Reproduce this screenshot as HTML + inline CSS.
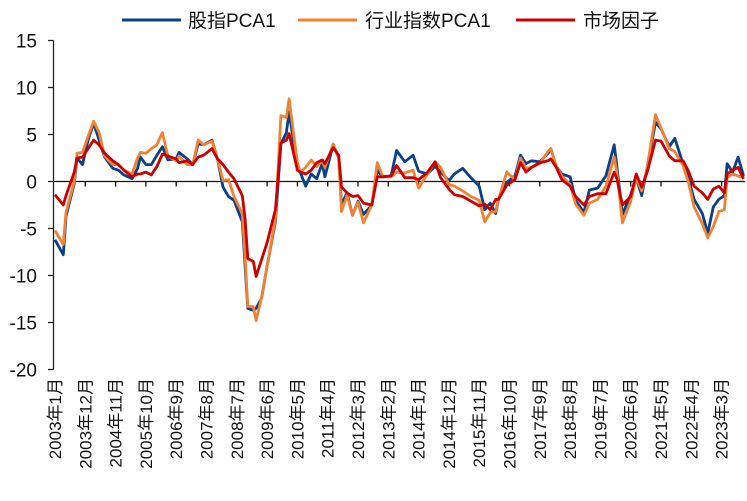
<!DOCTYPE html>
<html><head><meta charset="utf-8"><style>
body{margin:0;background:#fff;}
svg{display:block;font-family:"Liberation Sans","Noto Sans CJK SC",sans-serif;}
</style></head><body>
<svg id="chart" width="747" height="501" viewBox="0 0 747 501" xmlns="http://www.w3.org/2000/svg">
<g id="legend">
<g><line x1="122" y1="20" x2="181" y2="20" stroke="#0a3f8a" stroke-width="3"/><text x="188" y="27" font-size="19" fill="#111">股指PCA1</text></g>
<g><line x1="298" y1="20" x2="357" y2="20" stroke="#f08232" stroke-width="3"/><text x="365" y="27" font-size="19" fill="#111">行业指数PCA1</text></g>
<g><line x1="516" y1="20" x2="575" y2="20" stroke="#cc0000" stroke-width="3"/><text x="583" y="27" font-size="19" fill="#111">市场因子</text></g>
</g>
<g id="axes"></g>
<g id="series"></g>
</svg>
<script>
const dates=["2003-01","2003-04","2003-05","2003-08","2003-09","2003-11","2004-01","2004-03","2004-05","2004-07","2004-10","2004-12","2005-02","2005-05","2005-07","2005-08","2005-10","2005-12","2006-02","2006-04","2006-06","2006-09","2006-10","2007-01","2007-03","2007-05","2007-07","2007-10","2007-12","2008-02","2008-04","2008-06","2008-09","2008-10","2008-11","2009-01","2009-02","2009-04","2009-06","2009-09","2009-11","2010-01","2010-02","2010-05","2010-06","2010-08","2010-10","2010-12","2011-02","2011-03","2011-06","2011-08","2011-09","2011-11","2012-01","2012-03","2012-05","2012-08","2012-10","2012-12","2013-03","2013-05","2013-08","2013-11","2014-01","2014-04","2014-07","2014-09","2014-12","2015-02","2015-05","2015-08","2015-11","2016-01","2016-03","2016-05","2016-06","2016-09","2016-12","2017-02","2017-04","2017-06","2017-09","2017-12","2018-01","2018-03","2018-05","2018-08","2018-10","2019-01","2019-03","2019-06","2019-09","2019-12","2020-01","2020-03","2020-06","2020-08","2020-10","2020-12","2021-03","2021-05","2021-08","2021-10","2022-01","2022-03","2022-05","2022-08","2022-10","2022-12","2023-02","2023-04","2023-05","2023-07","2023-09","2023-11"];
const stockPCA1=[-6.2,-7.8,-3.7,-0.2,2.5,1.8,4.4,6.2,4.4,2.6,1.4,1.2,0.7,0.3,1.4,2.6,1.8,1.8,2.8,3.7,2.3,2.4,3.1,2.4,1.8,4.0,3.9,4.4,2.4,-0.6,-1.6,-2.0,-4.3,-9,-13.5,-13.7,-13.5,-12.4,-9,-4.3,4.0,5.2,7.4,1.5,1.0,-0.5,0.8,0.3,1.9,0.5,3.9,2.5,-2.5,-1.2,-3.6,-2.1,-3.5,-2.5,1.2,0.5,0.6,3.3,2.1,2.8,1.1,0.8,1.6,1.0,0.1,0.8,1.4,0.4,-0.5,-3.0,-2.3,-3.4,-1.9,-0.1,0.6,2.8,1.9,2.2,2.1,3.0,3.5,1.6,0.8,0.5,-2.0,-3.3,-0.9,-0.7,0.6,3.9,1.6,-3.5,-1.4,0.4,-1.5,1.5,6.3,5.6,3.7,4.6,1.9,0.3,-1.9,-3.4,-5.5,-2.7,-1.9,-1.5,1.9,1.0,2.6,0.6];
const industryPCA1=[-5.2,-6.7,-3.3,0,3.0,3.1,4.8,6.4,5.2,2.7,1.8,1.8,1.2,0.8,2.5,3.1,3.0,3.5,3.9,5.2,2.7,2.2,2.7,1.8,1.8,4.4,3.9,4.3,2.4,0.1,0.2,-1.6,-3.4,-8,-13.3,-13.3,-14.8,-12.3,-9,-4.0,7.0,6.8,8.8,2.0,1.0,1.5,2.3,1.6,2.2,1.5,4.0,2.5,-3.2,-1.5,-3.6,-2.2,-4.4,-2.5,2.0,0.5,0.5,1.0,0.9,1.2,-0.7,0.7,2.1,1.5,-0.3,-0.5,-1.0,-1.6,-2.0,-4.3,-3.3,-3.2,-1.9,1.0,0.2,2.5,1.4,1.5,1.9,3.2,3.5,1.6,0.6,-0.3,-2.4,-3.6,-2.3,-1.9,-0.5,2.6,1.0,-4.4,-2.1,0.4,-1.0,1.5,7.1,5.7,3.5,3.2,1.7,-0.1,-2.7,-4.5,-6.0,-4.8,-3.2,-3.0,0.4,0.8,0.6,0.4];
const marketFactor=[-1.4,-2.5,-1.5,1.0,2.5,2.6,3.5,4.4,3.9,3.0,2.2,1.8,1.2,0.5,0.8,0.8,1.0,0.7,1.6,2.9,2.7,2.4,2.0,2.2,1.8,2.6,2.8,3.5,2.4,1.8,1.0,0.3,-1.5,-4,-8.2,-8.5,-10.1,-8.3,-6.5,-3.0,4.1,4.4,5.1,1.2,1.0,0.8,1.2,2.0,2.3,1.9,3.6,2.8,-0.6,-1.2,-1.6,-1.5,-2.3,-2.5,0.5,0.5,0.6,1.7,0.4,0.4,0.2,0.9,2.1,0.4,-0.8,-1.4,-1.6,-2.1,-2.6,-2.4,-3.0,-1.9,-1.9,-0.4,0.2,2.0,1.0,1.5,2.0,2.2,2.4,1.5,0.2,-0.5,-1.6,-2.5,-1.6,-1.3,-1.3,1.0,0.3,-2.5,-1.6,0.8,-0.6,1.0,4.4,4.3,2.7,2.2,2.2,1.1,-0.5,-1.2,-1.9,-0.8,-0.5,-1.2,0.8,1.2,1.5,0.3];
const yTicks=[15,10,5,0,-5,-10,-15,-20];
const xTickLabels=["2003年1月","2003年12月","2004年11月","2005年10月","2006年9月","2007年8月","2008年7月","2009年6月","2010年5月","2011年4月","2012年3月","2013年2月","2014年1月","2014年12月","2015年11月","2016年10月","2017年9月","2018年8月","2019年7月","2020年6月","2021年5月","2022年4月","2023年3月"];

const NS="http://www.w3.org/2000/svg";
const X0=55, PXM=30.3/11, Y0=181.5, PXU=9.4;
function monthIdx(s){const [y,m]=s.split("-").map(Number);return (y-2003)*12+(m-1);}
function xScale(s){return X0+monthIdx(s)*PXM;}
function yScale(v){return Y0-v*PXU;}
function mk(tag,attrs,parent){const e=document.createElementNS(NS,tag);for(const k in attrs)e.setAttribute(k,attrs[k]);parent.appendChild(e);return e;}
const axes=document.getElementById("axes");
const ser=document.getElementById("series");
const yAxis=mk("line",{x1:53.5,y1:yScale(15),x2:53.5,y2:yScale(-20),stroke:"#222","stroke-width":1.3},axes);


yTicks.forEach(v=>{
  const t=mk("line",{x1:48,y1:yScale(v),x2:53.5,y2:yScale(v),stroke:"#222","stroke-width":1.3},axes);
  
  
  const l=mk("text",{x:37,y:yScale(v)+7,"text-anchor":"end","font-size":19,fill:"#111"},axes);
  l.textContent=String(v);
  
  
});
const zl=mk("line",{x1:53.5,y1:Y0,x2:745,y2:Y0,stroke:"#111","stroke-width":1.3},axes);


xTickLabels.forEach((lab,i)=>{
  const x=X0+i*11*PXM;
  if(i>0){const t=mk("line",{x1:x,y1:Y0,x2:x,y2:Y0+5,stroke:"#111","stroke-width":1.3},axes);
  
  }
  const l=mk("text",{x:0,y:0,"text-anchor":"end","font-size":17,fill:"#111",transform:`translate(${x+6},378) rotate(-90)`},axes);
  l.textContent=lab;
  
  
});
function drawLine(vals,color,name){
  const d=vals.map((v,i)=>(i?"L":"M")+xScale(dates[i]).toFixed(1)+","+yScale(v).toFixed(1)).join("");
  const p=mk("path",{d:d,fill:"none",stroke:color,"stroke-width":2.8,"stroke-linejoin":"round"},ser);
  
  
}
drawLine(stockPCA1,"#0a3f8a","series-stock-pca1");
drawLine(industryPCA1,"#f08232","series-industry-pca1");
drawLine(marketFactor,"#cc0000","series-market-factor");
</script>
</body></html>
